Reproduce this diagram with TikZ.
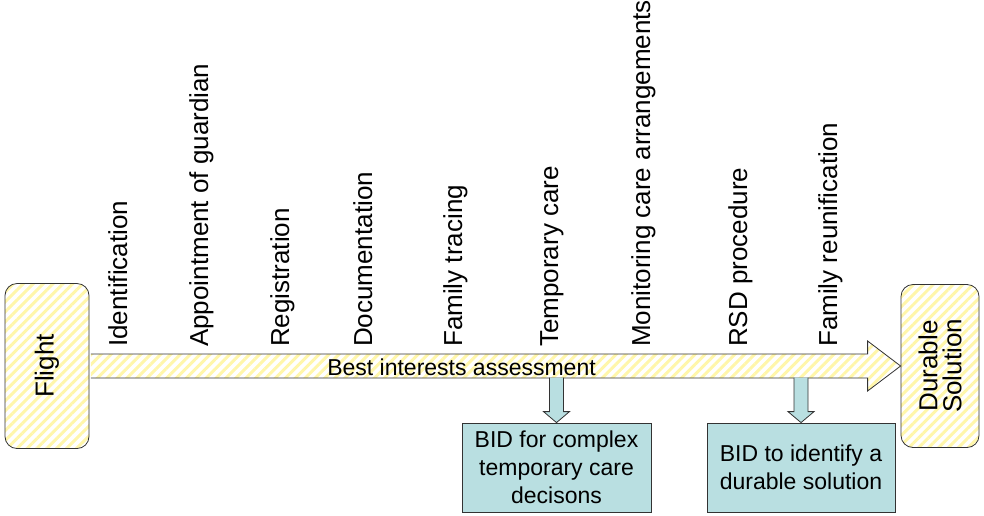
\documentclass[tikz,border=0pt]{standalone}
\usepackage{fontspec}
\setmainfont{Liberation Sans}
\usetikzlibrary{patterns.meta}
\usetikzlibrary{calc}
\definecolor{stripe}{RGB}{255,246,170}
\definecolor{bidfill}{RGB}{185,223,225}

\begin{document}
\begin{tikzpicture}[x=1pt, y=-1pt, every node/.style={inner sep=0pt},
  hatched/.style={draw=black!80, line width=0.8pt, pattern={Lines[angle=45, distance=7pt, line width=3pt]}, pattern color=stripe},
  endbox/.style={hatched, rounded corners=12pt, rotate=90, align=center, font=\fontsize{26}{24}\selectfont},
  bidbox/.style={draw=black!80, fill=bidfill, line width=0.8pt, minimum height=89pt, align=center, font=\fontsize{23}{28}\selectfont},
  bidarrow/.style={draw=black!80, fill=bidfill, line width=0.8pt},
  stagelabel/.style={rotate=90, anchor=base west, font=\fontsize{26}{30}\selectfont}]
\useasboundingbox (0,0) rectangle (984,515);

\node [endbox, minimum width=165pt, minimum height=84pt] (flight) at (47,366) {Flight};
\node [endbox, minimum width=163pt, minimum height=78pt] (durable) at (940,366) {Durable\\Solution};
\node [bidbox, minimum width=189pt] (bid1) at (556.5,467.5) {BID for complex\\temporary care\\decisons};
\node [bidbox, minimum width=188pt] (bid2) at (801,467.5) {BID to identify a\\durable solution};

\coordinate (tail) at (flight.south);
\coordinate (tip) at (durable.north);
\coordinate (head) at ($(tip)+(-33,0)$);
\draw [hatched]
($(tail)+(0.4,-12)$) -- ($(head)+(0,-12)$) -- ($(head)+(0,-25)$) --
(tip) --
($(head)+(0,25)$) -- ($(head)+(0,12)$) -- ($(tail)+(0.4,12)$);

\foreach \b in {bid1, bid2}
  \draw [bidarrow]
  ($(\b.north)+(-7,-45)$) -- ($(\b.north)+(-7,-11)$) -- ($(\b.north)+(-13,-11)$) --
  (\b.north) --
  ($(\b.north)+(13,-11)$) -- ($(\b.north)+(7,-11)$) -- ($(\b.north)+(7,-45)$);

\node [anchor=base, font=\fontsize{23}{28}\selectfont] (bia) at (461.5,375) {Best interests assessment};

\foreach \x/\t [count=\i] in {127/Identification, 208/Appointment of guardian, 289/Registration,
  372/Documentation, 462/Family tracing, 558/Temporary care,
  650/Monitoring care arrangements, 747/RSD procedure, 837/Family reunification}
  \node [stagelabel] (stage\i) at (\x,347) {\t};
\end{tikzpicture}
\end{document}
